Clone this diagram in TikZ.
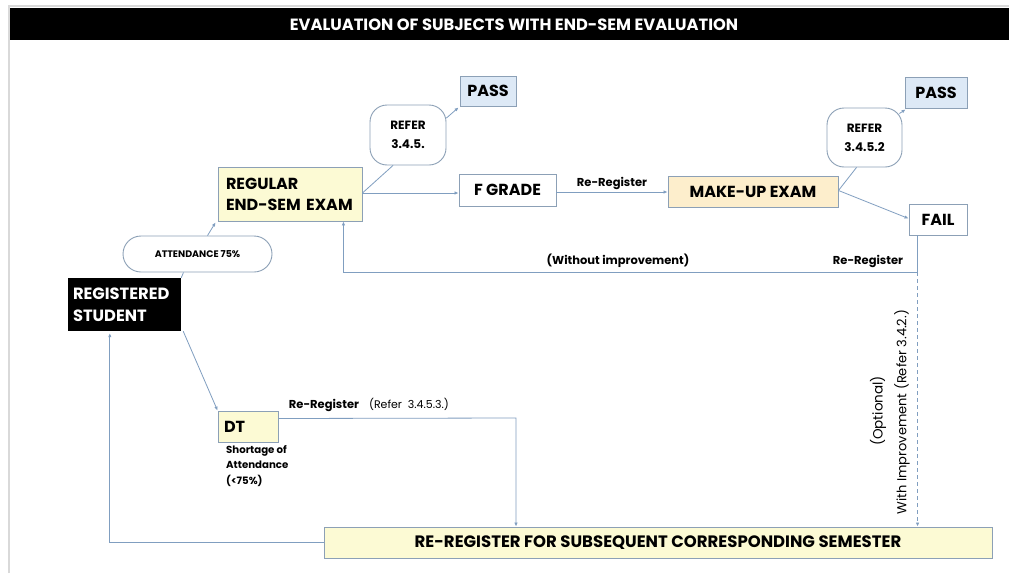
\documentclass[tikz,border=0pt]{standalone}
\usepackage{fontspec}
\setmainfont{Poppins}
\usetikzlibrary{arrows.meta,calc}
\definecolor{linec}{RGB}{128,158,192}
\definecolor{bordc}{RGB}{140,160,182}
\definecolor{passfill}{RGB}{221,233,246}
\definecolor{yelfill}{RGB}{252,250,212}
\definecolor{orafill}{RGB}{253,238,204}
\begin{document}
\begin{tikzpicture}[x=1pt,y=-1pt,
  box/.style={draw=bordc, line width=0.9pt, inner sep=0pt, font=\bfseries\fontsize{16}{21}\selectfont},
  conn/.style={draw=linec, line width=0.8pt},
  arr/.style={conn, -{Latex[length=4pt,width=3.5pt]}},
  lbl/.style={font=\bfseries\fontsize{11.5}{13}\selectfont, inner sep=1pt},
  refbox/.style={draw=bordc, line width=0.9pt, rounded corners=17pt, fill=white, inner sep=0pt, align=center, font=\bfseries\fontsize{12}{19}\selectfont}]
\useasboundingbox (0,0) rectangle (1009,573);
\fill[white] (0,0) rectangle (1009,573);
\draw[black!15, line width=2pt] (9,573) -- (9,6) -- (1009,6);
\node[fill=black, minimum width=999pt, minimum height=32pt, inner sep=0pt, anchor=north west] (bar) at (10,8) {};
\node[text=white, font=\bfseries\fontsize{16.3}{18}\selectfont, inner sep=0pt] (title) at (514,25) {EVALUATION OF SUBJECTS WITH END-SEM EVALUATION};

% nodes
\node[box, fill=passfill, minimum width=56pt, minimum height=30pt] (pass1) at (488,91) {PASS};
\node[refbox, minimum width=76pt, minimum height=60pt] (refer1) at (408,135) {REFER\\3.4.5.};
\node[box, fill=yelfill, minimum width=144pt, minimum height=54pt, text width=128pt, align=left] (regular) at (290,194) {REGULAR\\END-SEM EXAM};
\node[box, fill=white, minimum width=97pt, minimum height=32pt] (fgrade) at (507.5,190) {F GRADE};
\node[box, fill=orafill, minimum width=170pt, minimum height=31pt] (makeup) at (753,191.5) {MAKE-UP EXAM};
\node[refbox, minimum width=75pt, minimum height=59pt] (refer2) at (864.5,137.5) {REFER\\3.4.5.2};
\node[box, fill=passfill, minimum width=62pt, minimum height=31pt] (pass2) at (936,92.5) {PASS};
\node[box, fill=white, minimum width=58pt, minimum height=31pt] (fail) at (938,219.5) {FAIL};
\node[draw=bordc, line width=0.9pt, fill=white, rounded corners=18pt, minimum width=149pt, minimum height=36pt, inner sep=0pt, font=\bfseries\fontsize{9.5}{11}\selectfont] (att) at (197.5,254) {ATTENDANCE 75\%};
\node[fill=black, text=white, minimum width=113pt, minimum height=53pt, text width=103pt, inner sep=0pt, align=left, font=\bfseries\fontsize{16.3}{22}\selectfont] (student) at (124.5,304.5) {REGISTERED\\STUDENT};
\node[box, fill=yelfill, minimum width=60pt, minimum height=31pt, text width=48pt, align=left] (dt) at (248,426.5) {DT};
\node[box, fill=yelfill, minimum width=668pt, minimum height=31pt, font=\bfseries\fontsize{16.5}{18}\selectfont] (rereg) at (658,542.5) {RE-REGISTER FOR SUBSEQUENT CORRESPONDING SEMESTER};
\node[anchor=north west, align=left, inner sep=0pt, font=\bfseries\fontsize{10.2}{15.5}\selectfont] (short) at (226,445) {Shortage of\\Attendance\\(<75\%)};

% connectors
\coordinate (r1) at ($(regular.east)+(0,-1)$);
\coordinate (f1) at ($(fgrade.east)+(0,2)$);
\coordinate (m1) at ($(makeup.east)+(0,-1)$);
\draw[conn] (student.north east) -- ($(att.south)+(-14,0)$);
\draw[arr] ($(att.north)+(10,0)$) -- ($(regular.south west)+(-2,1)$);
\draw[conn] (r1) -- ($(refer1.south)+(-15,0)$);
\draw[arr] ($(refer1.east)+(0,-17)$) -- ($(pass1.south west)+(-1,1)$);
\draw[arr] (r1) -- (r1 -| fgrade.west);
\draw[arr] (f1) -- node[lbl, above=1pt] (rr1) {Re-Register} (f1 -| makeup.west);
\draw[conn] (m1) -- ($(refer2.south)+(-8,0)$);
\draw[arr] ($(refer2.east)+(-3,-24)$) -- ($(pass2.south west)+(1,1)$);
\draw[arr] (m1) -- ($(fail.west)+(0,-1)$);

\coordinate (fk) at ($(fail.south west)+(9,37)$);
\coordinate (regk) at ($(regular.south east)+(-19,0)$);
\draw[arr] ($(fail.south west)+(9,0)$) -- (fk) -- (fk -| regk) -- (regk);
\node[lbl] (wo) at (618,261) {(Without improvement)};
\node[lbl] (rr2) at (868,261) {Re-Register};
\draw[arr, dash pattern=on 4pt off 3pt] (fk) -- (fk |- rereg.north);
\node[rotate=90, inner sep=0pt, font=\fontsize{13.5}{15}\selectfont] (opt) at (878,411) {(Optional)};
\node[rotate=90, inner sep=0pt, font=\fontsize{13}{15}\selectfont] (withimp) at (902,412) {With Improvement (Refer 3.4.2.)};

\draw[arr] ($(student.south east)+(2,0)$) -- (dt.north west);
\coordinate (dk) at (516,418);
\draw[arr] ($(dt.east)+(0,-8)$) -- (dk) -- (dk |- rereg.north);
\node[lbl] (rr3) at (324,405) {Re-Register};
\node[lbl, font=\fontsize{11}{13}\selectfont] (ref3) at (409,404) {(Refer~~3.4.5.3.)};

\coordinate (sk) at ($(student.south west)+(42,2)$);
\draw[arr] (rereg.west) -- (rereg.west -| sk) -- (sk);
\end{tikzpicture}
\end{document}
